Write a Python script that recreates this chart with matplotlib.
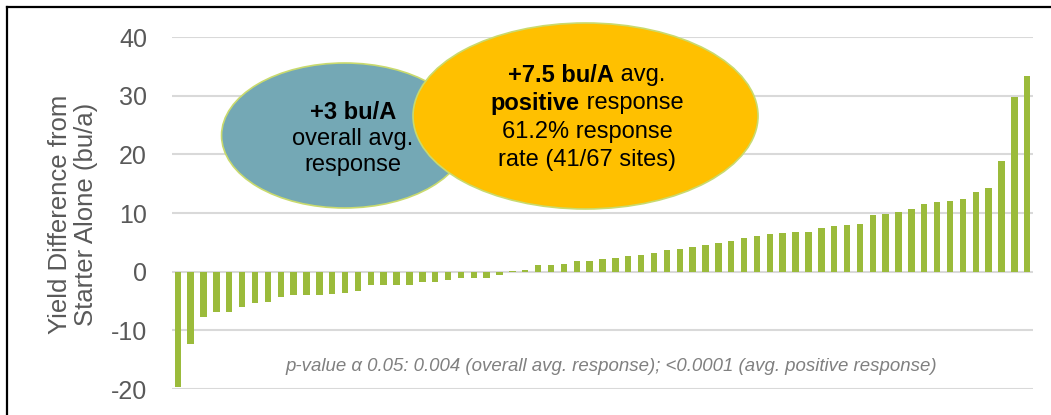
import matplotlib
matplotlib.use('Agg')
import matplotlib.pyplot as plt
from matplotlib.patches import Ellipse
from matplotlib.lines import Line2D
import numpy as np

plt.rcParams['font.family'] = ['Liberation Sans', 'DejaVu Sans']
plt.rcParams['axes.unicode_minus'] = False

# yield difference per site, sorted (bu/a), 67 sites
yield_diff = [
    -19.6, -12.3, -7.8, -6.9, -6.9, -6.1, -5.3, -5.2, -4.3, -4.0,
    -3.9, -3.9, -3.8, -3.7, -3.3, -2.3, -2.3, -2.2, -2.2, -1.8,
    -1.7, -1.5, -1.1, -1.0, -1.0, -0.5, 0.1, 0.3, 1.2, 1.2,
    1.3, 1.8, 1.9, 2.2, 2.4, 2.7, 2.9, 3.1, 3.7, 3.9,
    4.2, 4.6, 4.9, 5.2, 5.7, 6.1, 6.4, 6.6, 6.7, 6.8,
    7.4, 7.8, 8.0, 8.2, 9.7, 9.9, 10.1, 10.7, 11.5, 11.9,
    12.0, 12.4, 13.5, 14.3, 18.8, 29.7, 33.3,
]
y_ticks = [-20, -10, 0, 10, 20, 30, 40]
y_label = "Yield Difference from\nStarter Alone (bu/a)"
pvalue_note = "p-value \u03b1 0.05: 0.004 (overall avg. response); <0.0001 (avg. positive response)"
blue_lines = [[("+3 bu/A", "bold")], [("overall avg.", "normal")], [("response", "normal")]]
orange_lines = [
    [("+7.5 bu/A", "bold"), (" avg.", "normal")],
    [("positive", "bold"), (" response", "normal")],
    [("61.2% response", "normal")],
    [("rate (41/67 sites)", "normal")],
]

GRAY = '#595959'
BAR = '#9BBB3B'

fig = plt.figure(figsize=(10.51, 4.15), dpi=100)
ax = fig.add_axes([172 / 1051, 26 / 415, 861 / 1051, 352 / 415])

x = np.arange(len(yield_diff))
ax.bar(x, yield_diff, width=0.5, color=BAR, zorder=3)
ax.set_xlim(-0.45, len(yield_diff) - 0.55)
ax.set_ylim(-20, 40)
ax.set_yticks(y_ticks)
ax.set_xticks([])
ax.tick_params(axis='y', length=0, pad=18, labelsize=18, labelcolor=GRAY)
ax.grid(axis='y', color='#D9D9D9', linewidth=1.5, zorder=0)
for s in ax.spines.values():
    s.set_visible(False)

fig.text(73 / 1051, 1 - 214 / 415, y_label, rotation=90, ha='center', va='center',
         fontsize=18.5, color=GRAY, linespacing=1.15)

# ellipses
ax.add_patch(Ellipse((0.2004, 0.7202), 0.2857, 0.4119, transform=ax.transAxes,
                     facecolor='#74A8B5', edgecolor='#C9DA6E', linewidth=1.2,
                     zorder=4, clip_on=False))
ax.add_patch(Ellipse((0.4803, 0.7756), 0.4007, 0.5284, transform=ax.transAxes,
                     facecolor='#FFC000', edgecolor='#C9DA6E', linewidth=1.2,
                     zorder=5, clip_on=False))

renderer = fig.canvas.get_renderer()


def centered_line(parts, cx, cy, size, z):
    # draw mixed-weight text pieces centred on (cx, cy) in pixel coords
    objs = []
    widths = []
    for txt, wt in parts:
        t = fig.text(0, 0, txt, fontsize=size, fontweight=wt, ha='left', va='center',
                     color='black', zorder=z, transform=None)
        widths.append(t.get_window_extent(renderer).width)
        objs.append(t)
    total = sum(widths)
    xpos = cx - total / 2
    for t, w in zip(objs, widths):
        t.set_position((xpos, cy))
        xpos += w


for i, line in enumerate(blue_lines):
    centered_line(line, 353, 415 - (112 + i * 26.7), 17, 6)
for i, line in enumerate(orange_lines):
    centered_line(line, 587, 415 - (75 + i * 28.3), 17, 7)

ax.text((611.5 - 172) / 861, (389 - 366) / 352, pvalue_note, transform=ax.transAxes,
        ha='center', va='center', fontsize=13.4, style='italic', color='#808080', zorder=6)

# outer frame (top + left edge)
fig.add_artist(Line2D([6.5 / 1051, 6.5 / 1051], [0, 1 - 7.5 / 415], color='black', linewidth=1.6))
fig.add_artist(Line2D([6.5 / 1051, 1], [1 - 7.5 / 415, 1 - 7.5 / 415], color='black', linewidth=1.6))

fig.savefig('out.png', dpi=100)
